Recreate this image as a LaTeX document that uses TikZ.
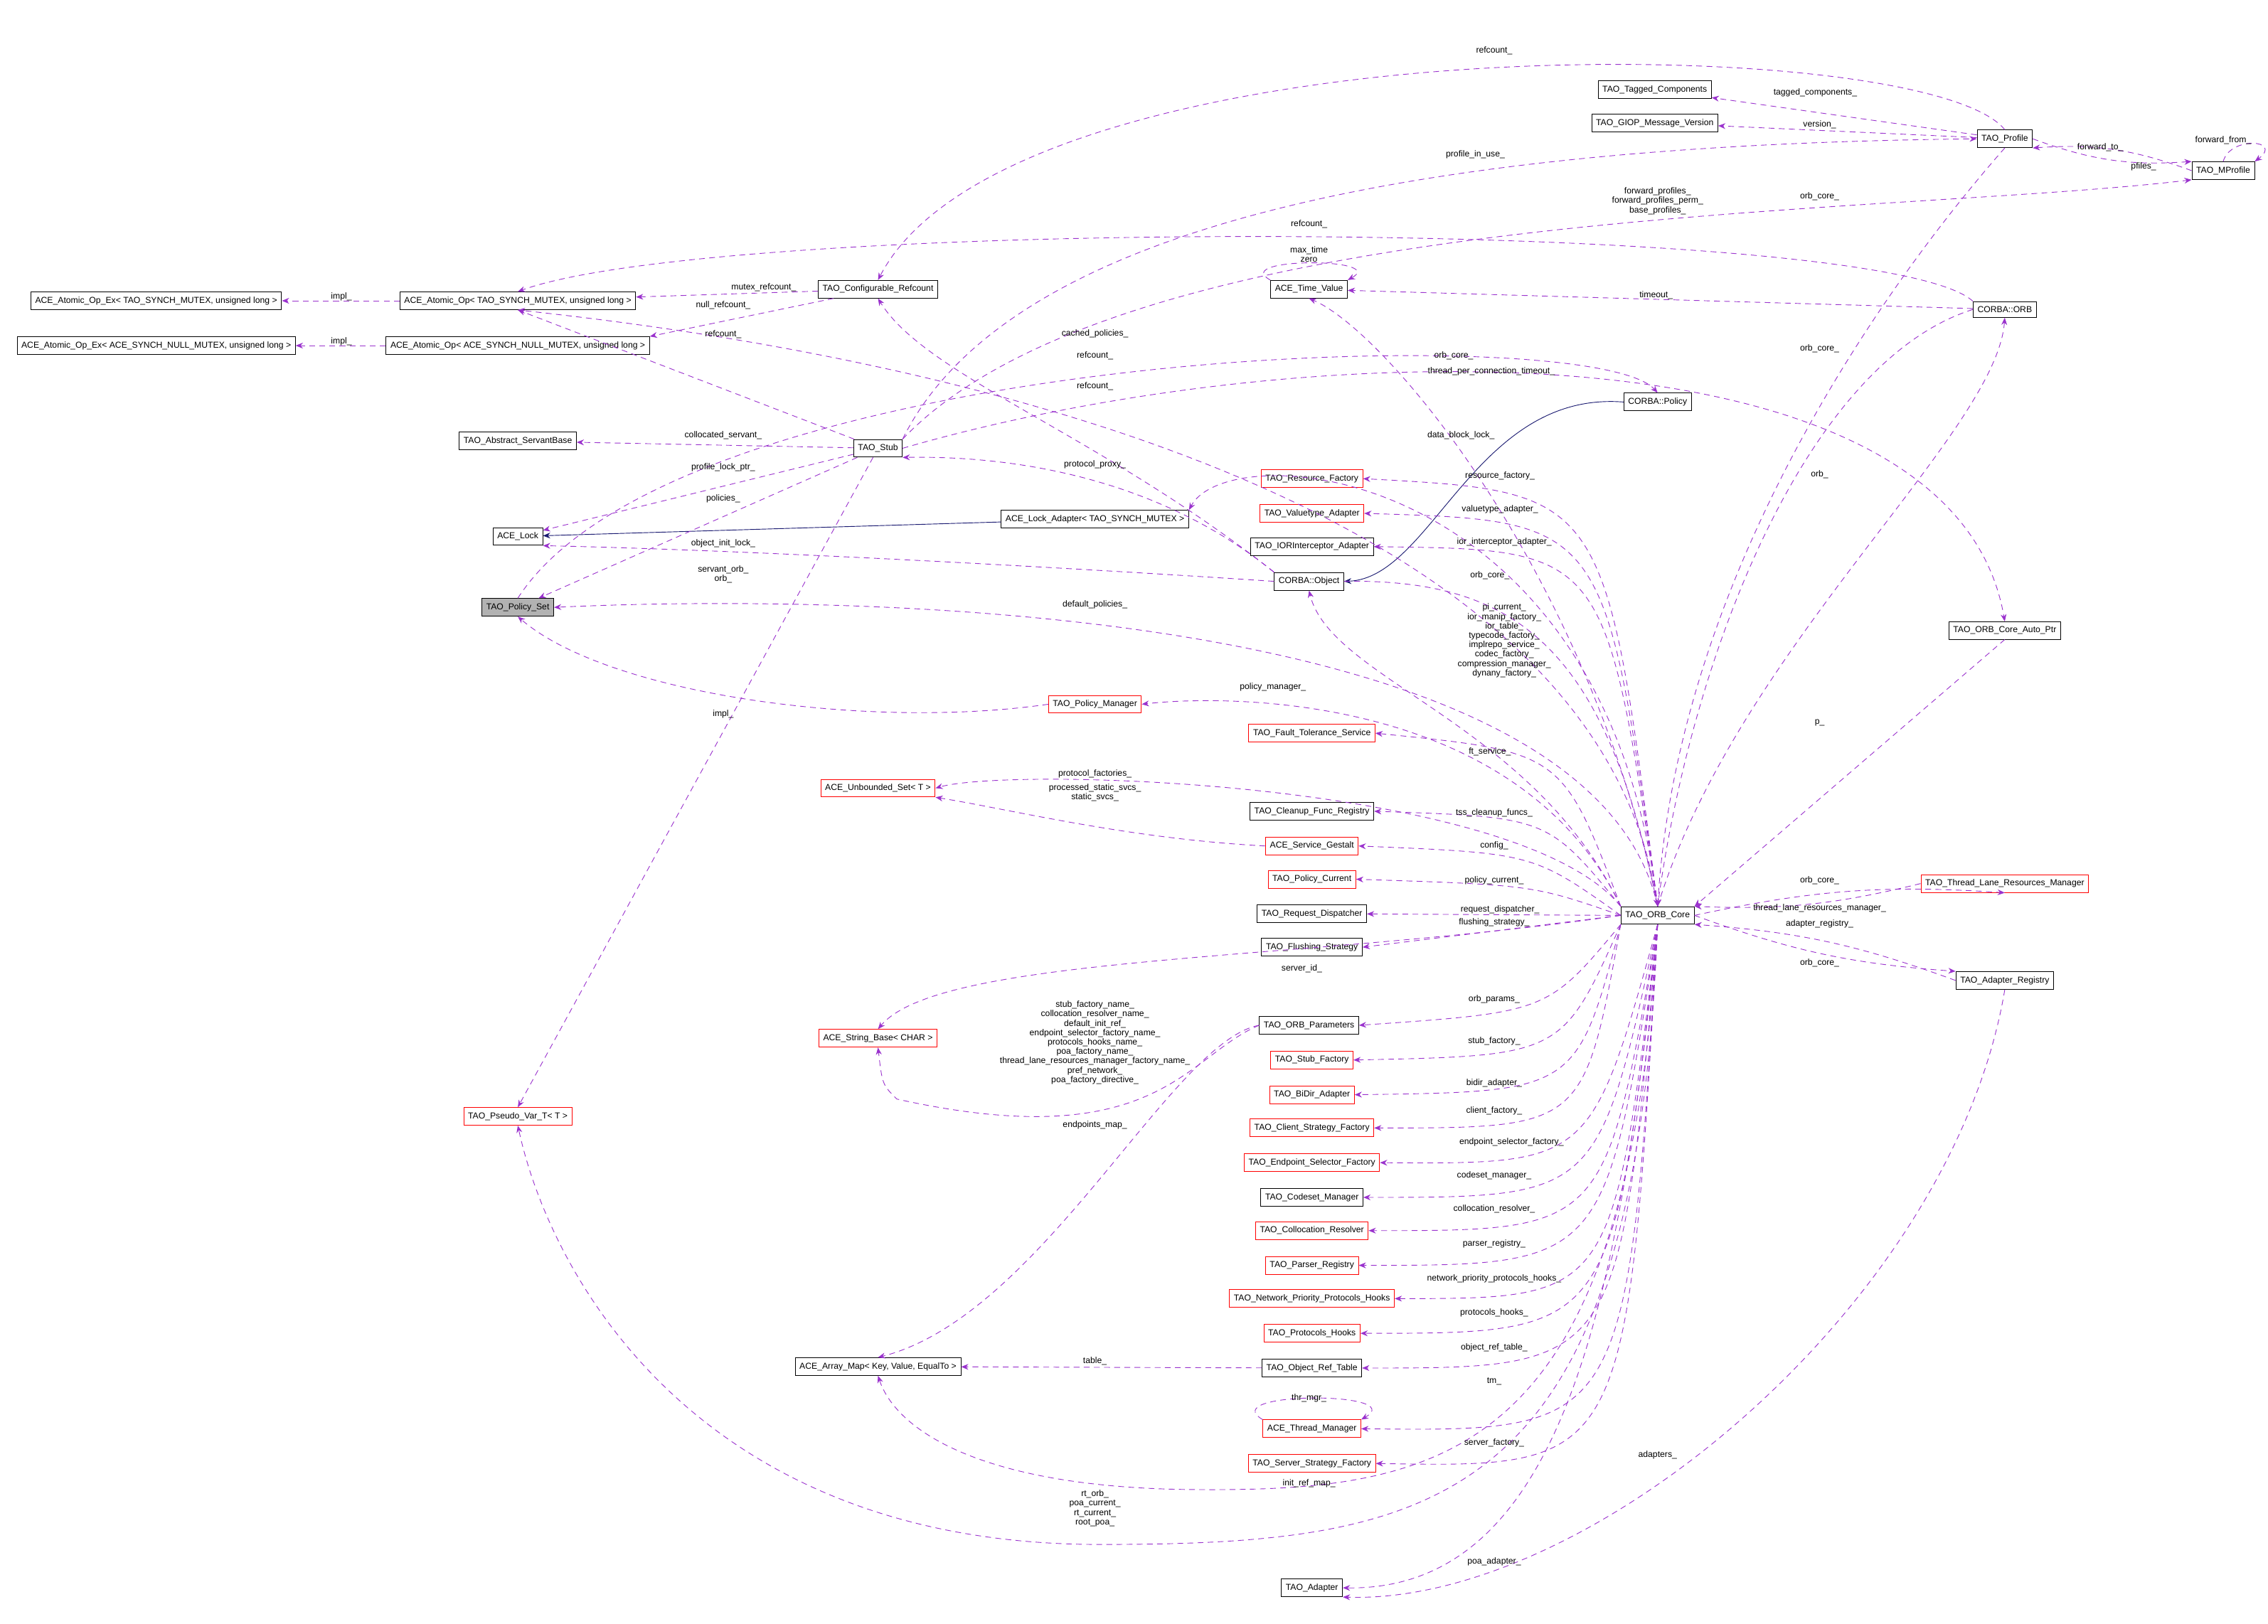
\documentclass[tikz,border=0pt]{standalone}
\usepackage{fontspec}
\setmainfont{Liberation Sans}
\usetikzlibrary{arrows.meta}
\definecolor{dep}{HTML}{9A32CD}
\definecolor{inh}{HTML}{191970}
\tikzset{every picture/.style={line width=0.45pt}}
\tikzset{
  cls/.style={draw=black,fill=white,inner xsep=3pt,minimum height=11pt,font=\fontsize{6}{7}\selectfont},
  redcls/.style={cls,draw=red},
  curcls/.style={cls,fill=black!30},
  dep/.style={draw=dep,dash pattern=on 4pt off 3pt,-{Stealth[length=5pt,width=4pt]}},
  inh/.style={draw=inh,-{Stealth[length=5pt,width=4pt]}},
  lbl/.style={inner sep=0.75pt,align=center,font=\fontsize{6}{6.5}\selectfont}
}
\begin{document}
\begin{tikzpicture}[x=1pt,y=1pt,yscale=-1,xscale=1]
\useasboundingbox (0,0) rectangle (1568,1123);
% Class nodes, left part
\node[cls] (AtomicExMutex) at (108,208) {ACE\_Atomic\_Op\_Ex< TAO\_SYNCH\_MUTEX, unsigned long >};
\node[cls] (AtomicExNull) at (108,239) {ACE\_Atomic\_Op\_Ex< ACE\_SYNCH\_NULL\_MUTEX, unsigned long >};
\node[cls] (AtomicMutex) at (358,208) {ACE\_Atomic\_Op< TAO\_SYNCH\_MUTEX, unsigned long >};
\node[cls] (AtomicNull) at (358,239) {ACE\_Atomic\_Op< ACE\_SYNCH\_NULL\_MUTEX, unsigned long >};
\node[cls] (Refcount) at (607,200) {TAO\_Configurable\_Refcount};
\node[cls] (ServantBase) at (358,305) {TAO\_Abstract\_ServantBase};
\node[cls] (Stub) at (607,310) {TAO\_Stub};
\node[cls] (Lock) at (358,371) {ACE\_Lock};
\node[cls] (LockAdapter) at (757,359) {ACE\_Lock\_Adapter< TAO\_SYNCH\_MUTEX >};
\node[curcls] (PolicySet) at (358,420) {TAO\_Policy\_Set};
\node[redcls] (PolicyManager) at (757,487) {TAO\_Policy\_Manager};
\node[redcls] (UnboundedSet) at (607,545) {ACE\_Unbounded\_Set< T >};
\node[redcls] (StringBase) at (607,718) {ACE\_String\_Base< CHAR >};
\node[redcls] (PseudoVar) at (358,772) {TAO\_Pseudo\_Var\_T< T >};
\node[cls] (ArrayMap) at (607,945) {ACE\_Array\_Map< Key, Value, EqualTo >};
% Class nodes, right part
\node[cls] (TaggedComp) at (1144,62) {TAO\_Tagged\_Components};
\node[cls] (GIOPVersion) at (1144,85) {TAO\_GIOP\_Message\_Version};
\node[cls] (Profile) at (1386,96) {TAO\_Profile};
\node[cls] (MProfile) at (1537,118) {TAO\_MProfile};
\node[cls] (TimeValue) at (905,200) {ACE\_Time\_Value};
\node[cls] (ORB) at (1386,214) {CORBA::ORB};
\node[cls] (Policy) at (1146,278) {CORBA::Policy};
\node[cls] (CoreAutoPtr) at (1386,436) {TAO\_ORB\_Core\_Auto\_Ptr};
\node[cls] (ORBCore) at (1146,633) {TAO\_ORB\_Core};
\node[redcls] (ThreadLaneRM) at (1386,611) {TAO\_Thread\_Lane\_Resources\_Manager};
\node[cls] (AdapterRegistry) at (1386,678) {TAO\_Adapter\_Registry};
% Class nodes, middle column
\node[redcls] (ResourceFactory) at (907,331) {TAO\_Resource\_Factory};
\node[redcls] (ValuetypeAdapter) at (907,355) {TAO\_Valuetype\_Adapter};
\node[cls] (IORAdapter) at (907,378) {TAO\_IORInterceptor\_Adapter};
\node[cls] (Object) at (905,402) {CORBA::Object};
\node[redcls] (FaultTolerance) at (907,507) {TAO\_Fault\_Tolerance\_Service};
\node[cls] (CleanupRegistry) at (907,561) {TAO\_Cleanup\_Func\_Registry};
\node[redcls] (ServiceGestalt) at (907,585) {ACE\_Service\_Gestalt};
\node[redcls] (PolicyCurrent) at (907,608) {TAO\_Policy\_Current};
\node[cls] (RequestDispatcher) at (907,632) {TAO\_Request\_Dispatcher};
\node[cls] (FlushingStrategy) at (907,655) {TAO\_Flushing\_Strategy};
\node[cls] (ORBParams) at (905,709) {TAO\_ORB\_Parameters};
\node[redcls] (StubFactory) at (907,733) {TAO\_Stub\_Factory};
\node[redcls] (BiDirAdapter) at (907,757) {TAO\_BiDir\_Adapter};
\node[redcls] (ClientFactory) at (907,780) {TAO\_Client\_Strategy\_Factory};
\node[redcls] (EndpointFactory) at (907,804) {TAO\_Endpoint\_Selector\_Factory};
\node[cls] (CodesetManager) at (907,828) {TAO\_Codeset\_Manager};
\node[redcls] (CollocResolver) at (907,851) {TAO\_Collocation\_Resolver};
\node[redcls] (ParserRegistry) at (907,875) {TAO\_Parser\_Registry};
\node[redcls] (NetPrioHooks) at (907,898) {TAO\_Network\_Priority\_Protocols\_Hooks};
\node[redcls] (ProtocolsHooks) at (907,922) {TAO\_Protocols\_Hooks};
\node[cls] (ObjectRefTable) at (907,946) {TAO\_Object\_Ref\_Table};
\node[redcls] (ThreadManager) at (907,988) {ACE\_Thread\_Manager};
\node[redcls] (ServerFactory) at (907,1012) {TAO\_Server\_Strategy\_Factory};
\node[cls] (Adapter) at (907,1098) {TAO\_Adapter};

% Inheritance
\draw[inh] (LockAdapter) -- (Lock);
\draw[inh] (Policy.west) .. controls (1020,270) and (990,400) .. (Object.east);

% Usage connectors, left part
\draw[dep] (AtomicMutex) -- (AtomicExMutex);
\draw[dep] (AtomicNull) -- (AtomicExNull);
\draw[dep] (Refcount) -- (AtomicMutex);
\draw[dep] (Refcount) -- (AtomicNull.north east);
\draw[dep] (Stub) -- (AtomicMutex.south);
\draw[dep] (Stub) -- (ServantBase);
\draw[dep] (Stub) -- (Lock);
\draw[dep] (Stub) -- (PolicySet);
\draw[dep] (Stub) -- (PseudoVar.north);
\draw[dep] (PolicyManager.west) .. controls (600,505) and (420,480) .. (PolicySet.south);
\draw[dep] (ServiceGestalt.west) .. controls (780,580) and (700,560) .. (UnboundedSet.south east);
\draw[dep] (ObjectRefTable) -- (ArrayMap);
\draw[dep] (ORBParams.west) .. controls (820,730) and (800,800) .. (620,760) .. controls (610,750) .. (StringBase.south);
\draw[dep] (ORBParams.west) .. controls (810,720) and (720,910) .. (ArrayMap.north);
\draw[dep] (PolicySet.north) .. controls (470,240) and (1100,220) .. (Policy.north);
\draw[dep] (Object.west) .. controls (700,390) and (500,380) .. (Lock.south east);
\draw[dep] (Object.north west) .. controls (800,330) and (700,315) .. (Stub.south east);
\draw[dep] (Object.north west) .. controls (760,300) and (640,260) .. (Refcount.south);

% Usage connectors, upper right
\draw[dep] (Profile.north) .. controls (1330,20) and (700,15) .. (Refcount.north);
\draw[dep] (Profile) -- (TaggedComp);
\draw[dep] (Profile) -- (GIOPVersion);
\draw[dep] (Profile.east) to[bend left=12] (MProfile.north west);
\draw[dep] (MProfile.west) to[bend left=12] (Profile.south east);
\draw[dep] (MProfile.north) .. controls +(5,-18) and +(20,-15) .. (MProfile.north east);
\draw[dep] (Stub.north east) .. controls (700,150) and (1000,100) .. (Profile.west);
\draw[dep] (Stub.north east) .. controls (780,140) and (1300,150) .. (MProfile.south west);
\draw[dep] (ORB.north west) .. controls (1300,150) and (500,150) .. (AtomicMutex.north);
\draw[dep] (ORB) -- (TimeValue);
\draw[dep] (TimeValue.north west) .. controls (850,178) and (960,178) .. (TimeValue.north east);
\draw[dep] (Stub.east) .. controls (900,230) and (1350,220) .. (CoreAutoPtr.north);
\draw[dep] (CoreAutoPtr.south) -- (ORBCore.north east);
\draw[dep] (Profile.south) .. controls (1300,200) and (1160,400) .. (ORBCore.north);
\draw[dep] (ORB.west) .. controls (1250,250) and (1170,450) .. (ORBCore.north);
\draw[dep] (ORBCore.north) .. controls (1200,450) and (1380,300) .. (ORB.south);
\draw[dep] (ThreadLaneRM.west) to[bend right=8] (ORBCore.north east);
\draw[dep] (ORBCore.east) to[bend right=8] (ThreadLaneRM.south);
\draw[dep] (ORBCore.east) to[bend left=8] (AdapterRegistry.north west);
\draw[dep] (AdapterRegistry.west) to[bend left=8] (ORBCore.south east);
\draw[dep] (AdapterRegistry.south) .. controls (1350,900) and (1100,1110) .. (Adapter.south east);

% Usage connectors from TAO_ORB_Core
\draw[dep] (ORBCore.north) .. controls (1100,300) and (500,230) .. (AtomicMutex.south);
\draw[dep] (ORBCore.north) .. controls (1100,400) and (960,230) .. (TimeValue.south);
\draw[dep] (ORBCore.north) .. controls (1110,320) and (850,300) .. (LockAdapter.north east);
\draw[dep] (ORBCore.north) .. controls (1100,420) and (600,410) .. (PolicySet.east);
\draw[dep] (ORBCore.north) .. controls (1110,340) .. (ResourceFactory.east);
\draw[dep] (ORBCore.north) .. controls (1110,360) .. (ValuetypeAdapter.east);
\draw[dep] (ORBCore.north) .. controls (1110,380) .. (IORAdapter.east);
\draw[dep] (Object.east) .. controls (1050,400) and (1110,450) .. (ORBCore.north);
\draw[dep] (ORBCore.north west) .. controls (1060,500) and (920,470) .. (Object.south);
\draw[dep] (ORBCore.north west) .. controls (1050,480) and (850,480) .. (PolicyManager.east);
\draw[dep] (ORBCore.north west) .. controls (1080,520) .. (FaultTolerance.east);
\draw[dep] (ORBCore.north west) .. controls (1050,540) and (700,530) .. (UnboundedSet.east);
\draw[dep] (ORBCore.north west) .. controls (1070,565) .. (CleanupRegistry.east);
\draw[dep] (ORBCore.west) .. controls (1060,590) .. (ServiceGestalt.east);
\draw[dep] (ORBCore.west) .. controls (1060,612) .. (PolicyCurrent.east);
\draw[dep] (ORBCore.west) -- (RequestDispatcher.east);
\draw[dep] (ORBCore.west) -- (FlushingStrategy.east);
\draw[dep] (ORBCore.west) .. controls (900,665) and (650,660) .. (StringBase.north);
\draw[dep] (ORBCore.south west) .. controls (1070,700) .. (ORBParams.east);
\draw[dep] (ORBCore.south west) .. controls (1080,730) .. (StubFactory.east);
\draw[dep] (ORBCore.south west) .. controls (1090,755) .. (BiDirAdapter.east);
\draw[dep] (ORBCore.south west) .. controls (1095,780) .. (ClientFactory.east);
\draw[dep] (ORBCore.south) .. controls (1100,805) .. (EndpointFactory.east);
\draw[dep] (ORBCore.south) .. controls (1105,828) .. (CodesetManager.east);
\draw[dep] (ORBCore.south) .. controls (1110,851) .. (CollocResolver.east);
\draw[dep] (ORBCore.south) .. controls (1110,875) .. (ParserRegistry.east);
\draw[dep] (ORBCore.south) .. controls (1115,898) .. (NetPrioHooks.east);
\draw[dep] (ORBCore.south) .. controls (1115,922) .. (ProtocolsHooks.east);
\draw[dep] (ORBCore.south) .. controls (1120,946) .. (ObjectRefTable.east);
\draw[dep] (ORBCore.south) .. controls (1125,990) .. (ThreadManager.east);
\draw[dep] (ThreadManager.north west) .. controls (840,962) and (975,962) .. (ThreadManager.north east);
\draw[dep] (ORBCore.south) .. controls (1125,1015) .. (ServerFactory.east);
\draw[dep] (ORBCore.south) .. controls (1125,1010) and (1000,1032) .. (820,1030) .. controls (680,1028) and (620,990) .. (ArrayMap.south);
\draw[dep] (ORBCore.south) .. controls (1130,1040) and (1000,1068) .. (760,1068) .. controls (480,1068) and (380,880) .. (PseudoVar.south);
\draw[dep] (ORBCore.south) .. controls (1120,900) and (1080,1100) .. (Adapter.east);

% Text Node labels
\node[lbl] (lImplA) at (236,205) {impl\_};
\node[lbl] (lImplB) at (236,236) {impl\_};
\node[lbl] (lMutexRef) at (528,199) {mutex\_refcount\_};
\node[lbl] (lNullRef) at (500,211) {null\_refcount\_};
\node[lbl] (lStubRef) at (500,231) {refcount\_};
\node[lbl] (lCollServ) at (500,301) {collocated\_servant\_};
\node[lbl] (lProfLock) at (500,323) {profile\_lock\_ptr\_};
\node[lbl] (lPolicies) at (500,345) {policies\_};
\node[lbl] (lServOrb) at (500,397) {servant\_orb\_\\orb\_};
\node[lbl] (lObjInit) at (500,376) {object\_init\_lock\_};
\node[lbl] (lImplPM) at (500,494) {impl\_};
\node[lbl] (lProfRef) at (1033,35) {refcount\_};
\node[lbl] (lTagged) at (1255,64) {tagged\_components\_};
\node[lbl] (lVersion) at (1258,86) {version\_};
\node[lbl] (lFwdTo) at (1452,102) {forward\_to\_};
\node[lbl] (lPfiles) at (1482,115) {pfiles\_};
\node[lbl] (lFwdFrom) at (1537,97) {forward\_from\_};
\node[lbl] (lInUse) at (1020,107) {profile\_in\_use\_};
\node[lbl] (lFwdProf) at (1146,139) {forward\_profiles\_\\forward\_profiles\_perm\_\\base\_profiles\_};
\node[lbl] (lProfCore) at (1258,136) {orb\_core\_};
\node[lbl] (lOrbRef) at (905,155) {refcount\_};
\node[lbl] (lMaxTime) at (905,176) {max\_time\\zero};
\node[lbl] (lTimeout) at (1145,204) {timeout\_};
\node[lbl] (lCached) at (757,231) {cached\_policies\_};
\node[lbl] (lOrbCoreA) at (1005,246) {orb\_core\_};
\node[lbl] (lOrbCoreB) at (1258,241) {orb\_core\_};
\node[lbl] (lCoreRef) at (757,246) {refcount\_};
\node[lbl] (lTpc) at (1031,257) {thread\_per\_connection\_timeout\_};
\node[lbl] (lObjRef) at (757,267) {refcount\_};
\node[lbl] (lDataBlock) at (1010,301) {data\_block\_lock\_};
\node[lbl] (lProxy) at (757,321) {protocol\_proxy\_};
\node[lbl] (lOrb) at (1258,328) {orb\_};
\node[lbl] (lResFac) at (1037,329) {resource\_factory\_};
\node[lbl] (lValAd) at (1037,352) {valuetype\_adapter\_};
\node[lbl] (lIorAd) at (1040,375) {ior\_interceptor\_adapter\_};
\node[lbl] (lObjCore) at (1030,398) {orb\_core\_};
\node[lbl] (lDefPol) at (757,418) {default\_policies\_};
\node[lbl] (lPiCurrent) at (1040,443) {pi\_current\_\\ior\_manip\_factory\_\\ior\_table\_\\typecode\_factory\_\\implrepo\_service\_\\codec\_factory\_\\compression\_manager\_\\dynany\_factory\_};
\node[lbl] (lPolMan) at (880,475) {policy\_manager\_};
\node[lbl] (lP) at (1258,500) {p\_};
\node[lbl] (lFt) at (1030,520) {ft\_service\_};
\node[lbl] (lProtFac) at (757,535) {protocol\_factories\_};
\node[lbl] (lStatic) at (757,548) {processed\_static\_svcs\_\\static\_svcs\_};
\node[lbl] (lTss) at (1033,562) {tss\_cleanup\_funcs\_};
\node[lbl] (lConfig) at (1033,585) {config\_};
\node[lbl] (lTlrmCore) at (1258,609) {orb\_core\_};
\node[lbl] (lPolCur) at (1033,609) {policy\_current\_};
\node[lbl] (lReqDisp) at (1037,629) {request\_dispatcher\_};
\node[lbl] (lTlrm) at (1258,628) {thread\_lane\_resources\_manager\_};
\node[lbl] (lFlush) at (1033,638) {flushing\_strategy\_};
\node[lbl] (lAdReg) at (1258,639) {adapter\_registry\_};
\node[lbl] (lArCore) at (1258,666) {orb\_core\_};
\node[lbl] (lServerId) at (900,670) {server\_id\_};
\node[lbl] (lNames) at (757,721) {stub\_factory\_name\_\\collocation\_resolver\_name\_\\default\_init\_ref\_\\endpoint\_selector\_factory\_name\_\\protocols\_hooks\_name\_\\poa\_factory\_name\_\\thread\_lane\_resources\_manager\_factory\_name\_\\pref\_network\_\\poa\_factory\_directive\_};
\node[lbl] (lEndpoints) at (757,778) {endpoints\_map\_};
\node[lbl] (lOrbParams) at (1033,691) {orb\_params\_};
\node[lbl] (lStubFac) at (1033,720) {stub\_factory\_};
\node[lbl] (lBiDir) at (1033,749) {bidir\_adapter\_};
\node[lbl] (lClient) at (1033,768) {client\_factory\_};
\node[lbl] (lEndSel) at (1045,790) {endpoint\_selector\_factory\_};
\node[lbl] (lCodeset) at (1033,813) {codeset\_manager\_};
\node[lbl] (lColloc) at (1033,836) {collocation\_resolver\_};
\node[lbl] (lParser) at (1033,860) {parser\_registry\_};
\node[lbl] (lNetPrio) at (1033,884) {network\_priority\_protocols\_hooks\_};
\node[lbl] (lProtHooks) at (1033,908) {protocols\_hooks\_};
\node[lbl] (lOrt) at (1033,932) {object\_ref\_table\_};
\node[lbl] (lTable) at (757,941) {table\_};
\node[lbl] (lTm) at (1033,955) {tm\_};
\node[lbl] (lThrMgr) at (905,967) {thr\_mgr\_};
\node[lbl] (lServFac) at (1033,998) {server\_factory\_};
\node[lbl] (lAdapters) at (1146,1006) {adapters\_};
\node[lbl] (lInitRef) at (905,1026) {init\_ref\_map\_};
\node[lbl] (lRtOrb) at (757,1043) {rt\_orb\_\\poa\_current\_\\rt\_current\_\\root\_poa\_};
\node[lbl] (lPoaAd) at (1033,1080) {poa\_adapter\_};
\end{tikzpicture}
\end{document}
